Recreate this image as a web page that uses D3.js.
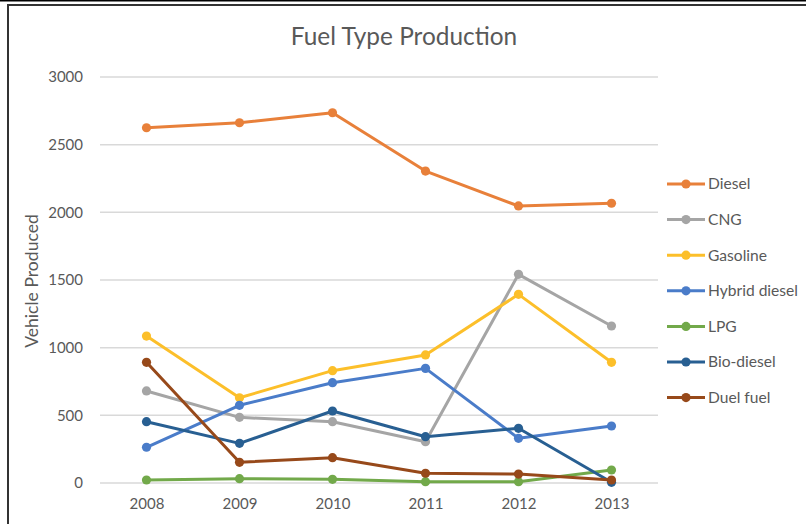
<!DOCTYPE html>
<html>
<head>
<meta charset="utf-8">
<script src="https://cdn.jsdelivr.net/npm/d3@7"></script>
<style>
  body { margin: 0; background: #fff; }
  text { font-family: Lato, "Open Sans", sans-serif; }
</style>
</head>
<body>
<div id="chart"></div>
<script>
// Chart Data
const years = ["2008", "2009", "2010", "2011", "2012", "2013"];
const seriesNames = ["Diesel", "CNG", "Gasoline", "Hybrid diesel", "LPG", "Bio-diesel", "Duel fuel"];
const diesel = [2625, 2662, 2736, 2305, 2047, 2067];
const cng = [680, 485, 453, 305, 1542, 1160];
const gasoline = [1086, 630, 830, 946, 1394, 892];
const hybridDiesel = [264, 574, 741, 847, 330, 421];
const lpg = [22, 32, 27, 10, 10, 96];
const bioDiesel = [453, 293, 532, 342, 404, 5];
const duelFuel = [892, 153, 187, 72, 66, 22];
const yTicks = [0, 500, 1000, 1500, 2000, 2500, 3000];
const colors = ["#e8803a", "#a5a5a5", "#fcbf2a", "#4a7cc9", "#72a94a", "#285f92", "#97491a"];

const seriesValues = [diesel, cng, gasoline, hybridDiesel, lpg, bioDiesel, duelFuel];
const series = seriesNames.map((name, i) => ({
  name: name,
  color: colors[i],
  values: seriesValues[i].map((v, j) => ({ year: years[j], value: v }))
}));

// Size of the SVG Container
const width = 806;
const height = 524;

const svg = d3.select("#chart")
  .append("svg")
  .attr("width", width)
  .attr("height", height);

// Frame lines around the picture
svg.append("rect").attr("x", 0).attr("y", 0).attr("width", width).attr("height", 1.5).attr("fill", "#000");
svg.append("line").attr("x1", 7).attr("x2", width).attr("y1", 5).attr("y2", 5)
  .attr("stroke", "#333").attr("stroke-width", 2);
svg.append("line").attr("x1", 8).attr("x2", 8).attr("y1", 4).attr("y2", height)
  .attr("stroke", "#333").attr("stroke-width", 2);

// Scales
const xScale = d3.scalePoint()
  .domain(years)
  .range([100, 658])
  .padding(0.5);

const yScale = d3.scaleLinear()
  .domain([0, 3000])
  .range([483, 77]);

// Gridlines
svg.append("g")
  .selectAll("line")
  .data(yTicks)
  .enter()
  .append("line")
  .attr("x1", 100)
  .attr("x2", 658)
  .attr("y1", d => yScale(d))
  .attr("y2", d => yScale(d))
  .attr("stroke", "#d9d9d9")
  .attr("stroke-width", 1.5);

// Y axis labels
const yAxis = svg.append("g")
  .attr("transform", "translate(83,0)")
  .call(d3.axisLeft(yScale).tickValues(yTicks).tickFormat(d3.format("d")).tickSize(0).tickPadding(0));
yAxis.select(".domain").remove();
yAxis.selectAll("text")
  .attr("fill", "#595959")
  .style("font-size", "15px")
  .style("font-family", "Lato, sans-serif");

// X axis labels
const xAxis = svg.append("g")
  .attr("transform", "translate(0,498)")
  .call(d3.axisBottom(xScale).tickSize(0).tickPadding(0));
xAxis.select(".domain").remove();
xAxis.selectAll("text")
  .attr("fill", "#595959")
  .style("font-size", "15px")
  .style("font-family", "Lato, sans-serif");

// Title
svg.append("text")
  .attr("x", 404)
  .attr("y", 45)
  .attr("text-anchor", "middle")
  .attr("fill", "#595959")
  .style("font-size", "24.4px")
  .text("Fuel Type Production");

// Y axis title
svg.append("text")
  .attr("transform", "translate(32,281) rotate(-90)")
  .attr("text-anchor", "middle")
  .attr("dy", "0.35em")
  .attr("fill", "#595959")
  .style("font-size", "17.6px")
  .text("Vehicle Produced");

// Lines and markers
const line = d3.line()
  .x(d => xScale(d.year))
  .y(d => yScale(d.value));

const groups = svg.append("g")
  .selectAll("g")
  .data(series)
  .enter()
  .append("g");

groups.append("path")
  .attr("d", d => line(d.values))
  .attr("fill", "none")
  .attr("stroke", d => d.color)
  .attr("stroke-width", 3)
  .attr("stroke-linejoin", "round");

groups.selectAll("circle")
  .data(d => d.values.map(v => ({ year: v.year, value: v.value, color: d.color })))
  .enter()
  .append("circle")
  .attr("cx", d => xScale(d.year))
  .attr("cy", d => yScale(d.value))
  .attr("r", 4.6)
  .attr("fill", d => d.color);

// Legend
const legend = svg.append("g")
  .selectAll("g")
  .data(series)
  .enter()
  .append("g")
  .attr("transform", (d, i) => "translate(0," + (184 + i * 35.6) + ")");

legend.append("line")
  .attr("x1", 667)
  .attr("x2", 705)
  .attr("stroke", d => d.color)
  .attr("stroke-width", 3);

legend.append("circle")
  .attr("cx", 686)
  .attr("r", 4.6)
  .attr("fill", d => d.color);

legend.append("text")
  .attr("x", 708)
  .attr("dy", "0.35em")
  .attr("fill", "#595959")
  .style("font-size", "15.6px")
  .text(d => d.name);
</script>
</body>
</html>
